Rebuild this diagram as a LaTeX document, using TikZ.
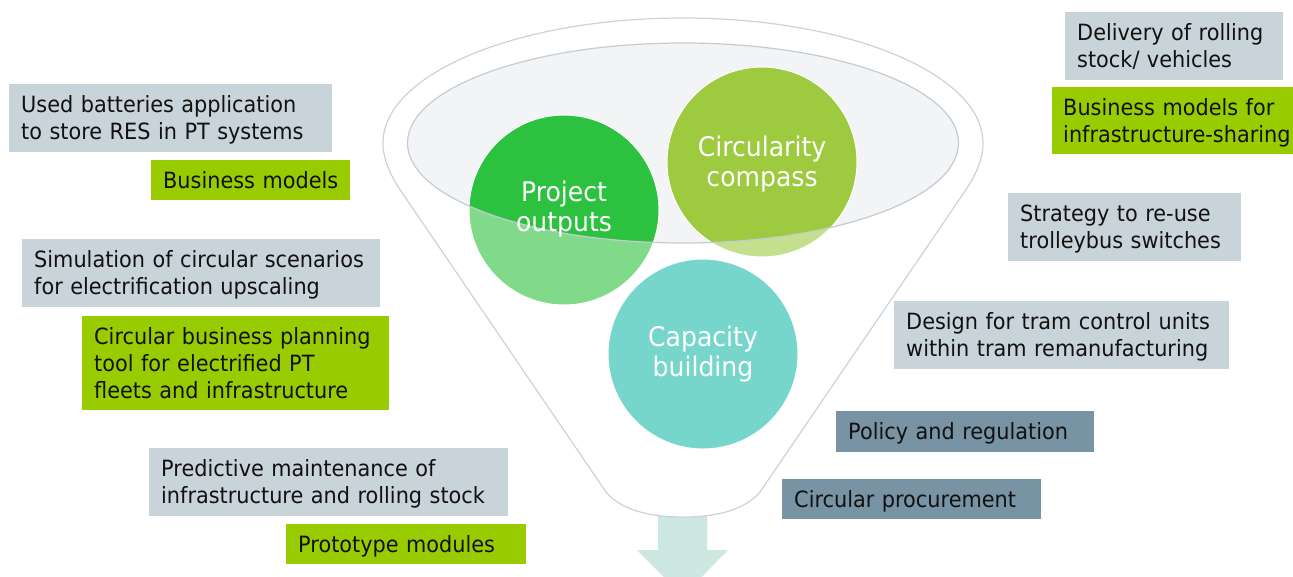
\documentclass[tikz,border=0pt]{standalone}
\usepackage{fontspec}
\setmainfont[FakeStretch=0.93]{DejaVu Sans}
\definecolor{boxgray}{HTML}{C9D3DA}
\definecolor{boxgreen}{HTML}{99CC00}
\definecolor{boxdark}{HTML}{7893A4}
\definecolor{projD}{HTML}{2CC23F}
\definecolor{projL}{HTML}{80DA8A}
\definecolor{compD}{HTML}{9DCA3E}
\definecolor{compL}{HTML}{C4DF8E}
\definecolor{capC}{HTML}{76D6CB}
\definecolor{ellfill}{HTML}{F2F4F6}
\definecolor{ellline}{HTML}{C3CCD3}
\definecolor{funline}{HTML}{CBD3D9}
\definecolor{arrowc}{HTML}{CDE7E1}
\definecolor{txtc}{HTML}{111111}
\begin{document}
\begin{tikzpicture}[x=1pt,y=-1pt,
  tbox/.style={anchor=north west, inner xsep=12pt, inner ysep=0pt, align=left,
    text height=16.5pt, font=\fontsize{22.4}{27}\selectfont, text=txtc},
  one/.style={text depth=0pt},
  two/.style={text depth=27pt},
  three/.style={text depth=54pt},
  gbox/.style={tbox, fill=boxgray},
  grbox/.style={tbox, fill=boxgreen},
  dbox/.style={tbox, fill=boxdark},
  circ/.style={circle, minimum size=190pt, inner sep=0pt},
  ctext/.style={align=center, text=white, font=\fontsize{27}{30}\selectfont, inner sep=0pt},
  funnel/.style={fill=white, draw=funline, line width=1.2pt}
]
\clip (0,0) rectangle (1293,576);
\fill[white] (0,0) rectangle (1293,576);

% arrow below funnel
\fill[arrowc] (658,505) -- (707,505) -- (707,550) -- (728,550) -- (683,596) -- (637,550) -- (658,550) -- cycle;

% funnel outline
\draw[funnel] (383,143) .. controls (383,162) and (393,180) .. (405,197)
  -- (606,492) .. controls (622,511) and (652,517) .. (683,517)
  .. controls (714,517) and (744,511) .. (760,492)
  -- (961,197) .. controls (973,180) and (983,162) .. (983,143)
  arc[start angle=0, end angle=-180, x radius=300, y radius=125] -- cycle;

% inner ellipse fill
\fill[ellfill] (683,143) ellipse [x radius=275.5, y radius=100];

% circles
\node[circ, fill=projL] (po) at (564,210) {};
\node[circ, fill=compL] (cc) at (762,162) {};
\node[circ, fill=capC] (cb) at (703,354) {};
\begin{scope}
  \clip (683,143) ellipse [x radius=275.5, y radius=100];
  \fill[projD] (po.center) circle [radius=95];
  \fill[compD] (cc.center) circle [radius=95];
\end{scope}
\draw[white, line width=1pt] (po.center) circle [radius=95];
\draw[white, line width=1pt] (cc.center) circle [radius=95];
\draw[white, line width=1pt] (cb.center) circle [radius=95];

% inner ellipse stroke
\draw[ellline, line width=1.2pt] (683,143) ellipse [x radius=275.5, y radius=100];

% circle texts
\node[ctext] (pot) at (564,209) {Project\\outputs};
\node[ctext] (cct) at (762,164) {Circularity\\compass};
\node[ctext] (cbt) at (703,354) {Capacity\\building};

% left boxes
\node[gbox, two, text width=299pt, minimum height=68pt] (b1) at (9,84) {\mbox{Used batteries application}\\\mbox{to store RES in PT systems}};
\node[grbox, one, text width=175pt, minimum height=40pt] (b2) at (151,160) {\mbox{Business models}};
\node[gbox, two, text width=334pt, minimum height=68pt] (b3) at (22,239) {\mbox{Simulation of circular scenarios}\\\mbox{for electrification upscaling}};
\node[grbox, three, text width=283pt, minimum height=94pt] (b4) at (82,316) {\mbox{Circular business planning}\\\mbox{tool for electrified PT}\\\mbox{fleets and infrastructure}};
\node[gbox, two, text width=335pt, minimum height=68pt] (b5) at (149,448) {\mbox{Predictive maintenance of}\\\mbox{infrastructure and rolling stock}};
\node[grbox, one, text width=216pt, minimum height=40pt] (b6) at (286,524) {\mbox{Prototype modules}};

% right boxes
\node[gbox, two, text width=194pt, minimum height=68pt] (b7) at (1065,12) {\mbox{Delivery of rolling}\\\mbox{stock/ vehicles}};
\node[grbox, two, inner xsep=11pt, text width=232pt, minimum height=67pt] (b8) at (1052,87) {\mbox{Business models for}\\\mbox{infrastructure-sharing}};
\node[gbox, two, text width=209pt, minimum height=68pt] (b9) at (1008,193) {\mbox{Strategy to re-use}\\\mbox{trolleybus switches}};
\node[gbox, two, text width=311pt, minimum height=68pt] (b10) at (894,301) {\mbox{Design for tram control units}\\\mbox{within tram remanufacturing}};
\node[dbox, one, text width=234pt, minimum height=41pt] (b11) at (836,411) {\mbox{Policy and regulation}};
\node[dbox, one, text width=235pt, minimum height=40pt] (b12) at (782,479) {\mbox{Circular procurement}};
\end{tikzpicture}
\end{document}
